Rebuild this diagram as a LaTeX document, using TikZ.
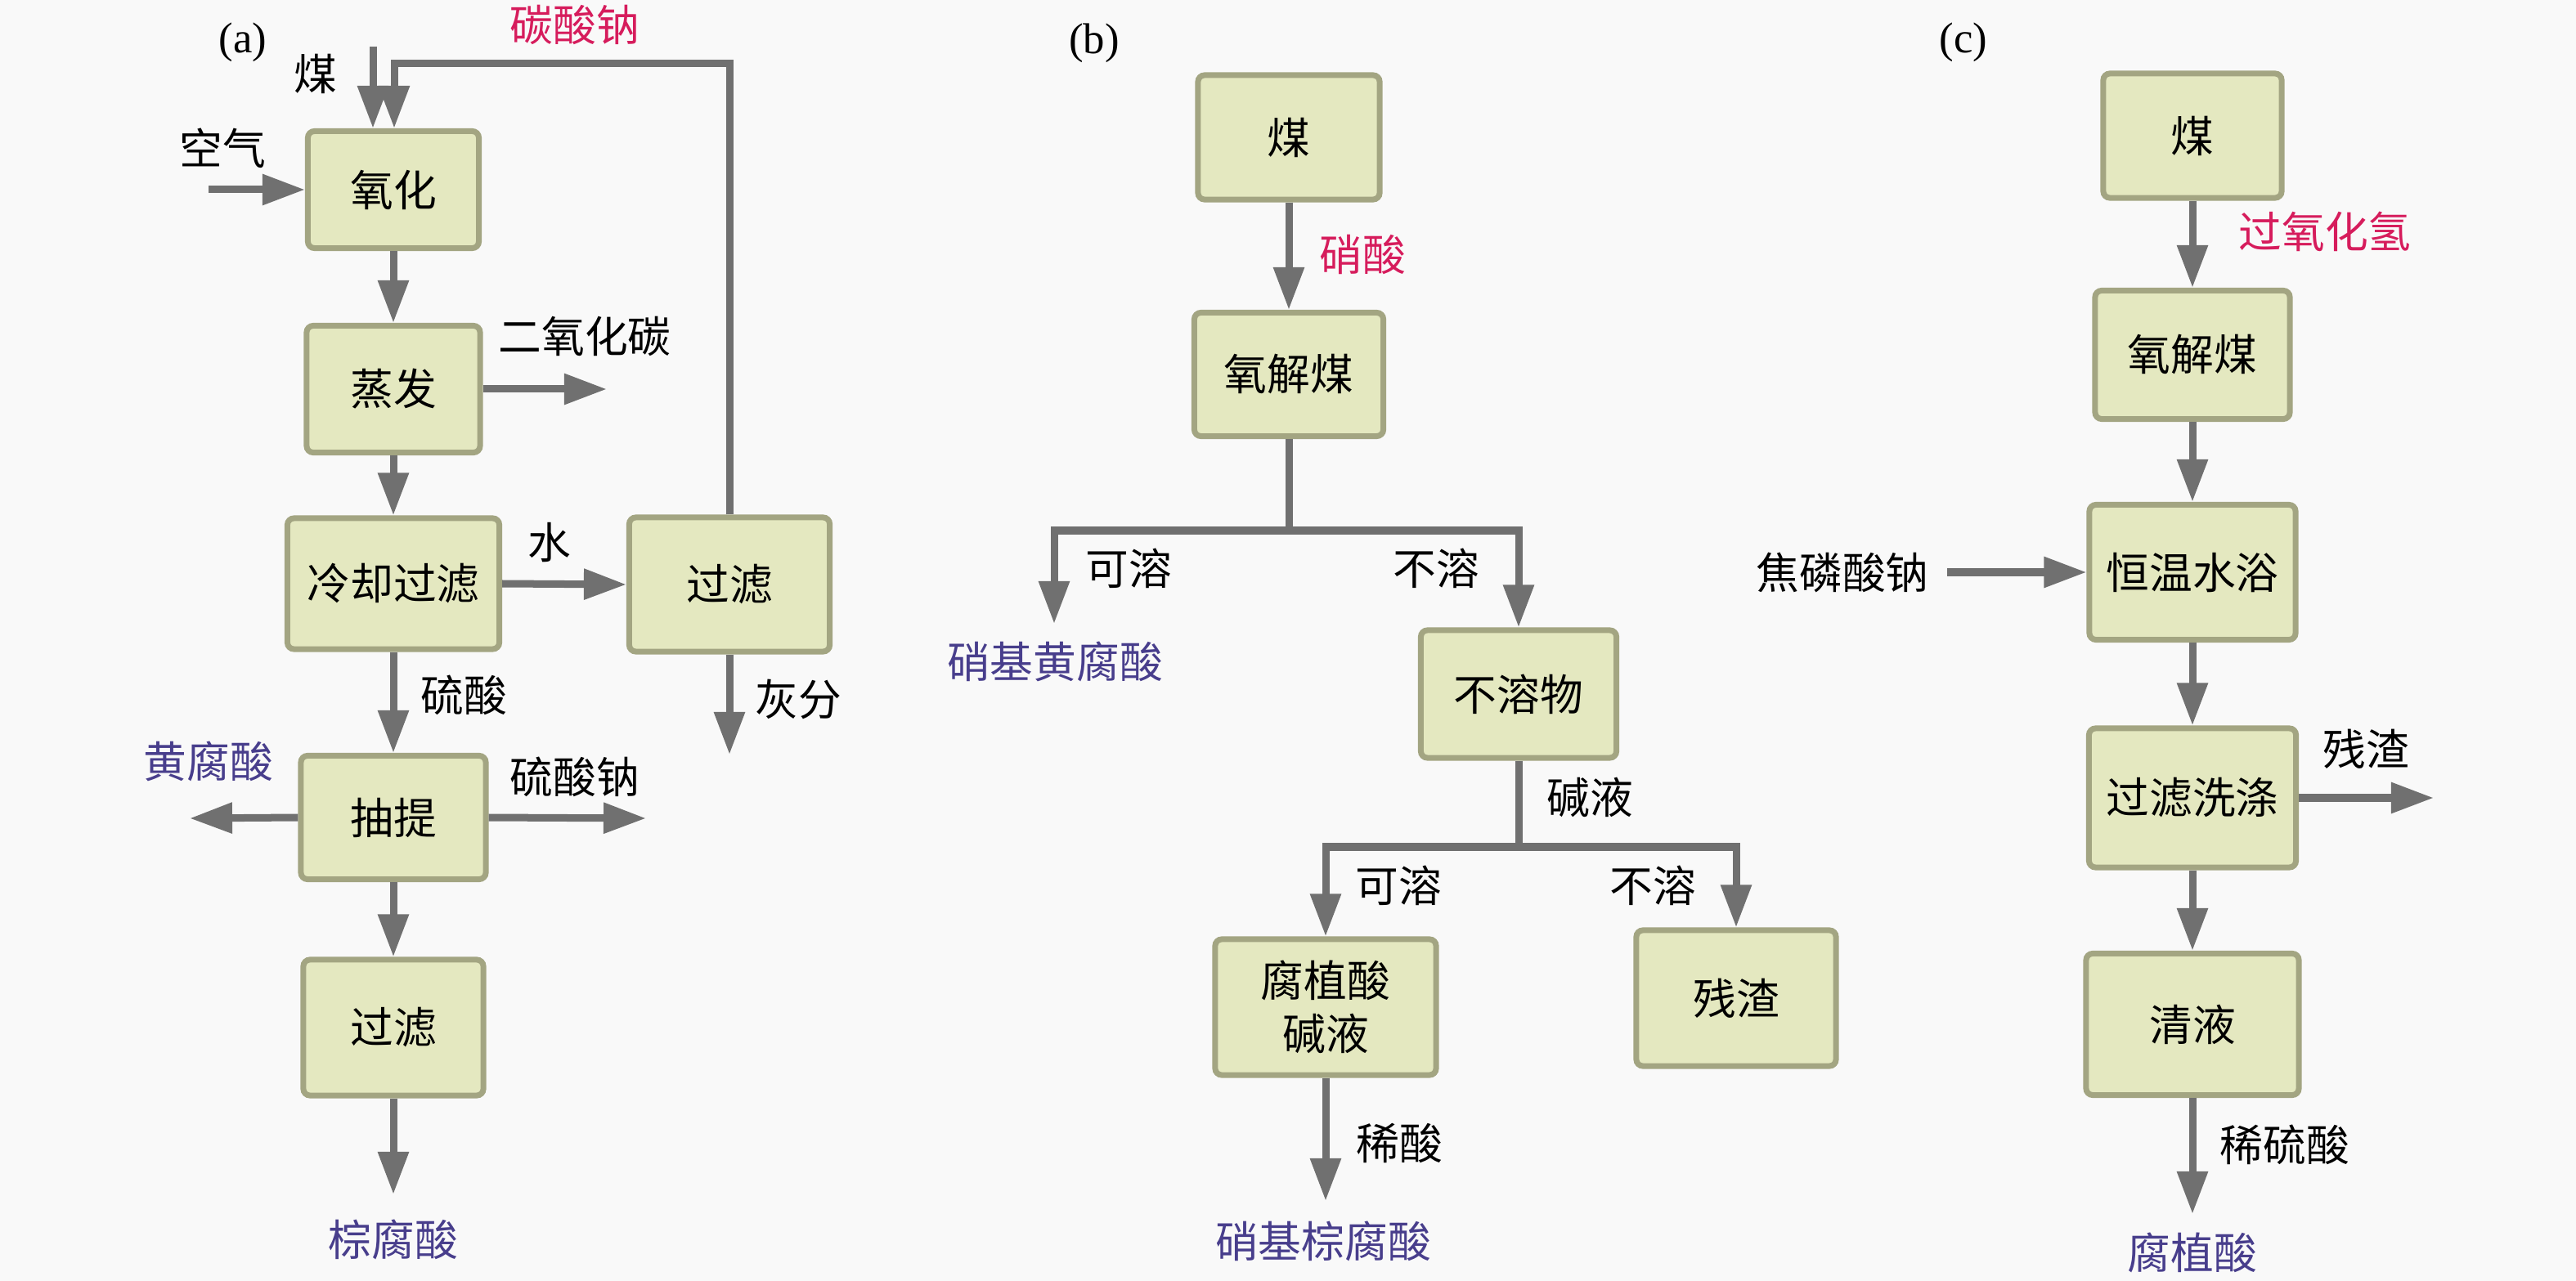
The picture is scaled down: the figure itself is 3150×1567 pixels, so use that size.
\documentclass[tikz,border=0pt]{standalone}
\usepackage{fontspec}
\setmainfont{Liberation Serif}
\newfontfamily\cjk{Noto Sans CJK SC}
\usetikzlibrary{arrows.meta}
\definecolor{boxfill}{RGB}{228,232,192}
\definecolor{boxline}{RGB}{163,165,130}
\definecolor{flowgray}{RGB}{112,112,112}
\definecolor{inred}{RGB}{214,28,92}
\definecolor{outblue}{RGB}{72,62,140}
\definecolor{bg}{RGB}{249,249,249}

\begin{document}
\begin{tikzpicture}[x=0.01cm,y=-0.01cm,
  every node/.style={font=\cjk\fontsize{15pt}{18.5pt}\selectfont,inner sep=0pt},
  box/.style={draw=boxline,fill=boxfill,line width=0.07cm,rounded corners=0.08cm,align=center},
  pipe/.style={draw=flowgray,line width=0.09cm},
  arr/.style={pipe,-{Triangle[length=0.52cm,width=0.36cm]}}]
\fill[bg] (0,0) rectangle (3150,1567);
\useasboundingbox (0,0) rectangle (3150,1567);

% (a)
\node (taga) at (297,52) {\rmfamily (a)};
\node[box,minimum width=2.09cm,minimum height=1.43cm] (ox) at (481,232) {氧化};
\node[box,minimum width=2.12cm,minimum height=1.55cm] (ev) at (481,476) {蒸发};
\node[box,minimum width=2.59cm,minimum height=1.60cm] (cf) at (481,714) {冷却过滤};
\node[box,minimum width=2.45cm,minimum height=1.64cm] (fa) at (892,715) {过滤};
\node[box,minimum width=2.26cm,minimum height=1.51cm] (ex) at (481,1000) {抽提};
\node[box,minimum width=2.20cm,minimum height=1.66cm] (fb) at (481,1257) {过滤};
\node (lcoal) at (386,90) {煤};
\node[text=inred] (lna) at (703,30) {碳酸钠};
\node (lair) at (272,181) {空气};
\node (lco2) at (715,411) {二氧化碳};
\node (lwat) at (672,664) {水};
\node (lash) at (976,855) {灰分};
\node (lsul) at (567,850) {硫酸};
\node[text=outblue] (lful) at (255,931) {黄腐酸};
\node (lnas) at (703,950) {硫酸钠};
\node[text=outblue] (lbha) at (481,1516) {棕腐酸};
\coordinate (coalin) at (456,57);
\coordinate (ret) at (482,78);
\coordinate (airin) at (255,232);
\coordinate (co2out) at (742,476);
\coordinate (ashout) at (892,923);
\coordinate (fulout) at (232,1001);
\coordinate (nasout) at (790,1001);
\coordinate (bhaout) at (481,1461);
\draw[arr] (coalin) -- (coalin |- ox.north);
\draw[arr] (fa.north) |- (ret) -- (ret |- ox.north);
\draw[arr] (airin) -- (ox.west);
\draw[arr] (ox.south) -- (ev.north);
\draw[arr] (ev.east) -- (co2out);
\draw[arr] (ev.south) -- (cf.north);
\draw[arr] (cf.east) -- (fa.west);
\draw[arr] (fa.south) -- (ashout);
\draw[arr] (cf.south) -- (ex.north);
\draw[arr] (ex.west) -- (fulout);
\draw[arr] (ex.east) -- (nasout);
\draw[arr] (ex.south) -- (fb.north);
\draw[arr] (fb.south) -- (bhaout);

% (b)
\node (tagb) at (1338,53) {\rmfamily (b)};
\node[box,minimum width=2.22cm,minimum height=1.52cm] (bcoal) at (1576,168) {煤};
\node[box,minimum width=2.31cm,minimum height=1.51cm] (boxc) at (1576,458) {氧解煤};
\node[box,minimum width=2.39cm,minimum height=1.56cm] (binsol) at (1857,849) {不溶物};
\node[box,minimum width=2.70cm,minimum height=1.66cm] (bhal) at (1621,1232) {腐植酸\\碱液};
\node[box,minimum width=2.44cm,minimum height=1.66cm] (bres) at (2123,1221) {残渣};
\node[text=inred] (lnit) at (1666,311) {硝酸};
\node (lsol1) at (1380,695) {可溶};
\node (linsol1) at (1756,695) {不溶};
\node[text=outblue] (lnfa) at (1290,809) {硝基黄腐酸};
\node (lalk) at (1944,975) {碱液};
\node (lsol2) at (1710,1083) {可溶};
\node (linsol2) at (2021,1083) {不溶};
\node (ldil) at (1711,1398) {稀酸};
\node[text=outblue] (lnha) at (1618,1518) {硝基棕腐酸};
\coordinate (bj1) at (1576,649);
\coordinate (nfaout) at (1289,763);
\coordinate (bj2) at (1857,1036);
\coordinate (nhaout) at (1621,1469);
\draw[arr] (bcoal.south) -- (boxc.north);
\draw[pipe] (boxc.south) -- (bj1);
\draw[arr] (bj1) -| (nfaout);
\draw[arr] (bj1) -| (binsol.north);
\draw[pipe] (binsol.south) -- (bj2);
\draw[arr] (bj2) -| (bhal.north);
\draw[arr] (bj2) -| (bres.north);
\draw[arr] (bhal.south) -- (nhaout);

% (c)
\node (tagc) at (2401,52) {\rmfamily (c)};
\node[box,minimum width=2.18cm,minimum height=1.52cm] (ccoal) at (2681,166) {煤};
\node[box,minimum width=2.38cm,minimum height=1.57cm] (coxc) at (2681,434) {氧解煤};
\node[box,minimum width=2.52cm,minimum height=1.65cm] (cbath) at (2681,700) {恒温水浴};
\node[box,minimum width=2.53cm,minimum height=1.70cm] (cwash) at (2681,976) {过滤洗涤};
\node[box,minimum width=2.60cm,minimum height=1.73cm] (cclear) at (2681,1253) {清液};
\node[text=inred] (lhp) at (2843,283) {过氧化氢};
\node (lpyro) at (2253,700) {焦磷酸钠};
\node (lres) at (2893,916) {残渣};
\node (ldsul) at (2794,1400) {稀硫酸};
\node[text=outblue] (lha) at (2681,1532) {腐植酸};
\coordinate (pyroin) at (2381,700);
\coordinate (resout) at (2976,976);
\coordinate (haout) at (2681,1485);
\draw[arr] (ccoal.south) -- (coxc.north);
\draw[arr] (coxc.south) -- (cbath.north);
\draw[arr] (pyroin) -- (cbath.west);
\draw[arr] (cbath.south) -- (cwash.north);
\draw[arr] (cwash.east) -- (resout);
\draw[arr] (cwash.south) -- (cclear.north);
\draw[arr] (cclear.south) -- (haout);
\end{tikzpicture}
\end{document}
